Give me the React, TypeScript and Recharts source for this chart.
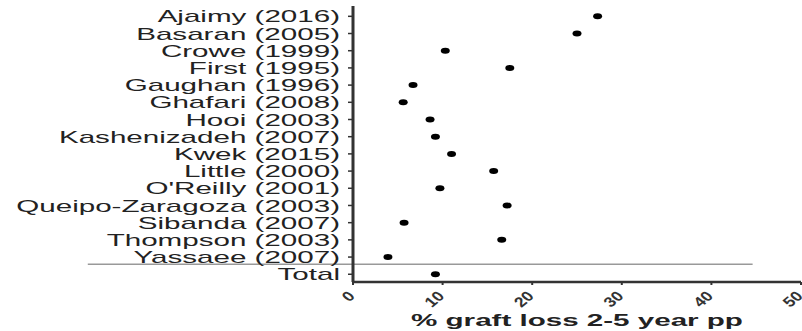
import { ScatterChart, Scatter, XAxis, YAxis, ReferenceLine, Label } from "recharts";

const studies = [
  "Ajaimy (2016)",
  "Basaran (2005)",
  "Crowe (1999)",
  "First (1995)",
  "Gaughan (1996)",
  "Ghafari (2008)",
  "Hooi (2003)",
  "Kashenizadeh (2007)",
  "Kwek (2015)",
  "Little (2000)",
  "O'Reilly (2001)",
  "Queipo-Zaragoza (2003)",
  "Sibanda (2007)",
  "Thompson (2003)",
  "Yassaee (2007)",
  "Total",
];

const graftLoss = [27.3, 25.0, 10.3, 17.5, 6.7, 5.6, 8.6, 9.2, 11.0, 15.7, 9.7, 17.2, 5.7, 16.6, 3.9, 9.2];

const xTicks = [0, 10, 20, 30, 40, 50];
const rowTicks = studies.map((_, i) => i);

const data = studies.map((name, i) => ({ name, row: i, loss: graftLoss[i] }));

const FONT = '"Liberation Sans", Arial, Helvetica, sans-serif';
const INK = "#222222";
const STRETCH = 1.74;

function StudyTick({ x, y, payload }: any) {
  return (
    <g transform={`translate(${x},${y})`}>
      <text
        transform={`scale(${STRETCH},1)`}
        textAnchor="end"
        dy="0.36em"
        fontSize={17}
        fontFamily={FONT}
        fill={INK}
      >
        {studies[payload.value]}
      </text>
    </g>
  );
}

function PercentTick({ x, y, payload }: any) {
  return (
    <g transform={`translate(${x - 6},${y + 3})`}>
      <text
        transform="scale(1.25,1) rotate(-45)"
        textAnchor="end"
        dy="0.71em"
        fontSize={14}
        fontWeight="bold"
        fontFamily={FONT}
        fill="#333333"
      >
        {payload.value}
      </text>
    </g>
  );
}

function AxisTitle({ viewBox }: any) {
  if (!viewBox) return null;
  const cx = viewBox.x + viewBox.width / 2;
  return (
    <g transform={`translate(${cx},${viewBox.y + 44})`}>
      <text
        transform={`scale(${STRETCH},1)`}
        textAnchor="middle"
        fontSize={17}
        fontWeight="bold"
        fontFamily={FONT}
        fill={INK}
      >
        % graft loss 2-5 year pp
      </text>
    </g>
  );
}

function Dot({ cx, cy }: any) {
  return <ellipse cx={cx} cy={cy} rx={4.5} ry={3} fill="#000000" />;
}

export default function App() {
  return (
    <div style={{ position: "absolute", left: 0, top: 0, background: "#ffffff" }}>
      <ScatterChart
        width={802}
        height={331}
        margin={{ top: 6, right: 1, bottom: 0, left: 0 }}
      >
        <XAxis
          type="number"
          dataKey="loss"
          domain={[0, 50]}
          ticks={xTicks}
          interval={0}
          height={49}
          axisLine={{ stroke: "#333333", strokeWidth: 2.5 }}
          tickLine={{ stroke: "#333333", strokeWidth: 2 }}
          tickSize={3}
          tick={<PercentTick />}
        >
          <Label content={<AxisTitle />} />
        </XAxis>
        <YAxis
          type="number"
          dataKey="row"
          domain={[-0.6, 15.45]}
          ticks={rowTicks}
          interval={0}
          reversed
          width={353}
          axisLine={{ stroke: "#333333", strokeWidth: 3 }}
          tickLine={{ stroke: "#333333", strokeWidth: 1.5 }}
          tickSize={5}
          tickMargin={8}
          tick={<StudyTick />}
        />
        <ReferenceLine
          ifOverflow="visible"
          segment={[
            { x: -29.6, y: 14.42 },
            { x: 44.6, y: 14.42 },
          ]}
          stroke="#999999"
          strokeWidth={1.5}
        />
        <Scatter data={data} shape={<Dot />} isAnimationActive={false} />
      </ScatterChart>
    </div>
  );
}
